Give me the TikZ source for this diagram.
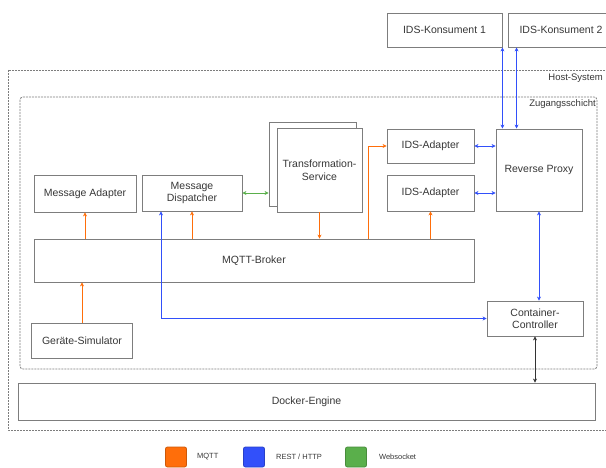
\documentclass[tikz,border=0pt]{standalone}
\usepackage{fontspec}
\setmainfont{Liberation Sans}
\usetikzlibrary{arrows.meta,positioning}
\definecolor{mqttcol}{RGB}{255,110,10}
\definecolor{restcol}{RGB}{50,80,250}
\definecolor{wscol}{RGB}{90,175,75}
\definecolor{boxline}{RGB}{125,125,125}
\definecolor{txtcol}{RGB}{55,55,55}
\begin{document}
\begin{tikzpicture}[
    x=1pt, y=-1pt,
    box/.style={rectangle, draw=boxline, line width=0.9pt, fill=white, text=txtcol, align=center, font=\fontsize{10.5}{12.5}\selectfont, inner sep=2pt},
    layer/.style={draw=boxline, line width=0.8pt, dash pattern=on 2pt off 1pt},
    layerlabel/.style={text=txtcol, font=\fontsize{9.5}{11}\selectfont, inner sep=1pt},
    tip/.style={{Stealth[length=4pt,width=4pt]}-{Stealth[length=4pt,width=4pt]}},
    mqtt/.style={draw=mqttcol, line width=0.6pt, -{Stealth[length=4pt,width=4pt]}},
    rest/.style={draw=restcol, line width=0.6pt, tip},
    ws/.style={draw=wscol, line width=0.6pt, tip},
    docker/.style={draw=black!80, line width=0.6pt, tip},
    legendbox/.style={rectangle, rounded corners=2pt, minimum width=21pt, minimum height=20pt, line width=0.8pt},
    legendtext/.style={text=txtcol, font=\fontsize{7.5}{9}\selectfont, anchor=west, inner sep=0pt}
]
    \useasboundingbox (0,0) rectangle (606,468);

    % Layers
    \draw [layer] (8,70) rectangle (614,430);
    \node [layerlabel, anchor=east] (hostlabel) at (604,78) {Host-System};
    \draw [layer, rounded corners=3pt] (20,97) rectangle (597,369);
    \node [layerlabel, anchor=north east] (zuglabel) at (597,98) {Zugangsschicht};

    % Consumers outside
    \node [box, minimum width=115, minimum height=34] (kons1) at (444.5,30) {IDS-Konsument 1};
    \node [box, minimum width=106, minimum height=34] (kons2) at (561,30) {IDS-Konsument 2};

    % Services
    \node [box, minimum width=102, minimum height=37] (ma) at (85,193.5) {Message Adapter};
    \node [box, minimum width=100, minimum height=36] (md) at (192,193) {Message\\Dispatcher};
    \node [box, minimum width=87, minimum height=84] (transback) at (312.5,164) {};
    \node [box, minimum width=85, minimum height=84] (trans) at (319.5,170) {Transformation-\\Service};
    \node [box, minimum width=87, minimum height=34] (ida1) at (430.5,146) {IDS-Adapter};
    \node [box, minimum width=87, minimum height=36] (ida2) at (430.5,193) {IDS-Adapter};
    \node [box, minimum width=86, minimum height=82] (rp) at (539,170) {Reverse Proxy};
    \node [box, minimum width=440, minimum height=43] (broker) at (254,260.5) {MQTT-Broker};
    \node [box, minimum width=101, minimum height=35] (sim) at (82,340.5) {Geräte-Simulator};
    \node [box, minimum width=96, minimum height=35] (cc) at (535,318.5) {Container-\\Controller};
    \node [box, minimum width=577, minimum height=37] (engine) at (306.5,401.5) {Docker-Engine};

    % MQTT
    \draw [mqtt] (sim.north) -- (sim.north |- broker.south);
    \draw [mqtt] (broker.north -| ma) -- (ma.south);
    \draw [mqtt] (broker.north -| md) -- (md.south);
    \draw [mqtt] (trans.south) -- (trans.south |- broker.north);
    \draw [mqtt] ([xshift=114pt]broker.north) |- (ida1.west);
    \draw [mqtt] (broker.north -| ida2) -- (ida2.south);

    % REST / HTTP
    \draw [rest] ([xshift=-31pt]md.south) |- (cc.west);
    \draw [rest] (ida1.east) -- (ida1.east -| rp.west);
    \draw [rest] (ida2.east) -- (ida2.east -| rp.west);
    \draw [rest] (kons1.south east) -- (kons1.south east |- rp.north);
    \draw [rest] ([xshift=9pt]kons2.south west) -- ([xshift=9pt]kons2.south west |- rp.north);
    \draw [rest] (rp.south) -- (rp.south |- cc.north);

    % Websocket
    \draw [ws] (md.east) -- (md.east -| transback.west);

    % Docker
    \draw [docker] (cc.south) -- (cc.south |- engine.north);

    % Legend
    \node [legendbox, fill=mqttcol, draw=mqttcol!80!black] (legmqtt) at (176,457) {};
    \node [legendtext, right=10pt of legmqtt] (legmqtttxt) {MQTT};
    \node [legendbox, fill=restcol, draw=restcol!80!black] (legrest) at (254,457) {};
    \node [legendtext, right=11pt of legrest] (legresttxt) {REST / HTTP};
    \node [legendbox, fill=wscol, draw=wscol!80!black] (legws) at (356,457) {};
    \node [legendtext, right=12pt of legws] (legwstxt) {Websocket};
\end{tikzpicture}
\end{document}
